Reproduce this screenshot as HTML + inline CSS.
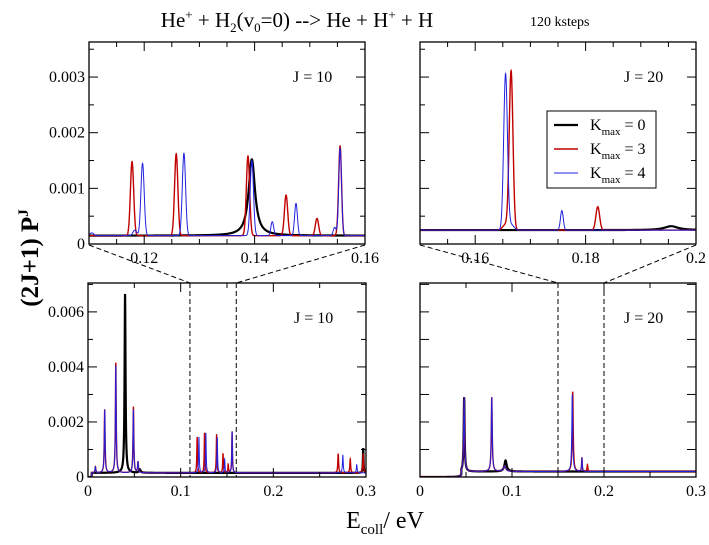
<!DOCTYPE html>
<html><head><meta charset="utf-8">
<style>
html,body{margin:0;padding:0;background:#fff;}
svg{display:block;font-family:"Liberation Serif",serif;}
</style></head>
<body>
<svg id="chart" width="709" height="545" viewBox="0 0 709 545" xmlns="http://www.w3.org/2000/svg">
<text x="297" y="27" font-size="21" text-anchor="middle">He<tspan font-size="13" dy="-8">+</tspan><tspan dy="8"> + H</tspan><tspan font-size="13" dy="5">2</tspan><tspan dy="-5">(v</tspan><tspan font-size="13" dy="5">0</tspan><tspan dy="-5">=0) --&gt; He + H</tspan><tspan font-size="13" dy="-8">+</tspan><tspan dy="8"> + H</tspan></text>
<text x="530" y="26" font-size="14">120 ksteps</text>
<text transform="translate(38,258) rotate(-90)" font-size="25" font-weight="bold" text-anchor="middle">(2J+1) P<tspan font-size="15" dy="-10">J</tspan></text>
<text x="385" y="528" font-size="24" text-anchor="middle">E<tspan font-size="15" dy="6">coll</tspan><tspan dy="-6">/ eV</tspan></text>
<g id="plots"></g>
<g>
<rect x="547" y="111" width="109" height="77" fill="#fff" stroke="#000" stroke-width="1"/>
<line x1="554" y1="125" x2="578" y2="125" stroke="#000" stroke-width="2.2"/>
<line x1="554" y1="149" x2="578" y2="149" stroke="#c00000" stroke-width="1.4"/>
<line x1="554" y1="173" x2="578" y2="173" stroke="#2020e0" stroke-width="1"/>
<text x="590" y="130" font-size="16">K<tspan font-size="11" dy="5">max</tspan><tspan dy="-5"> = 0</tspan></text>
<text x="590" y="154" font-size="16">K<tspan font-size="11" dy="5">max</tspan><tspan dy="-5"> = 3</tspan></text>
<text x="590" y="178" font-size="16">K<tspan font-size="11" dy="5">max</tspan><tspan dy="-5"> = 4</tspan></text>
</g>
</svg>
<script>
// Peak data: [position eV, height, half-width eV]
const tlK0 = [[0.1395,0.00137,0.0007]];
const tlK3 = [[0.1178,0.00133,0.00035],[0.1258,0.00147,0.00035],[0.1388,0.00143,0.00035],[0.1457,0.00073,0.00035],[0.1513,0.00031,0.00035],[0.1552,0.00012,0.0003],[0.1555,0.00155,0.0003]];
const tlK4 = [[0.1183,0.0001,0.0004],[0.1197,0.0013,0.00035],[0.1272,0.00148,0.00035],[0.1395,0.00135,0.00035],[0.1432,0.00025,0.0003],[0.1475,0.00058,0.0003],[0.1545,0.00015,0.0003],[0.1555,0.00157,0.0003],[0.1105,0.00005,0.0004]];
const tlBase = 0.00015;

const trK0 = [[0.1955,0.00007,0.0015]];
const trK3 = [[0.1665,0.00285,0.0004],[0.1822,0.00042,0.0004],[0.1655,0.0001,0.0006]];
const trK4 = [[0.1655,0.0028,0.0004],[0.1757,0.00035,0.0003],[0.1665,0.0001,0.0006]];
const trBase = 0.00025;

const blK0 = [[0.04,0.0065,0.0006],[0.056,0.00012,0.001],[0.297,0.0009,0.0004]];
const blK3 = [[0.008,0.00022,0.0005],[0.018,0.0023,0.0005],[0.03,0.004,0.0005],[0.049,0.0024,0.0005],[0.054,0.0004,0.0005],[0.1178,0.0013,0.0004],[0.1258,0.00145,0.0004],[0.1388,0.0014,0.0004],[0.1457,0.0007,0.0004],[0.1513,0.0003,0.0004],[0.1555,0.0015,0.0004],[0.27,0.0007,0.0005],[0.283,0.0005,0.0005],[0.297,0.0007,0.0005]];
const blK4 = [[0.008,0.00022,0.0005],[0.018,0.0023,0.0005],[0.03,0.0039,0.0005],[0.049,0.0023,0.0005],[0.054,0.0004,0.0005],[0.1197,0.0013,0.0004],[0.1272,0.00145,0.0004],[0.1395,0.0013,0.0004],[0.1475,0.0005,0.0004],[0.1555,0.0015,0.0004],[0.275,0.00065,0.0005],[0.29,0.0003,0.0005]];
const blBase = 0.00015;

const brK0 = [[0.048,0.0027,0.0006],[0.093,0.0004,0.0015]];
const brK3 = [[0.048,0.0027,0.0006],[0.078,0.0027,0.0006],[0.092,0.0002,0.0015],[0.166,0.0029,0.0006],[0.176,0.0005,0.0004],[0.182,0.00025,0.0005]];
const brK4 = [[0.048,0.0027,0.0006],[0.078,0.0027,0.0006],[0.092,0.0002,0.0015],[0.1655,0.0028,0.0006],[0.176,0.0005,0.0004]];
const brBase = 0.0002;

const NS = "http://www.w3.org/2000/svg";
const root = document.getElementById('plots');
function el(tag, attrs, parent){const e=document.createElementNS(NS,tag);for(const k in attrs)e.setAttribute(k,attrs[k]);(parent||root).appendChild(e);return e;}

function curve(peaks, base, x, start, gauss){
  let v = (start!==undefined && x<start) ? 0 : base;
  for(const p of peaks){const d=(x-p[0])/p[2];v+= gauss ? p[1]*Math.exp(-0.693*d*d) : p[1]/(1+d*d);}
  return v;
}

function panel(o){
  const g = el('g',{});
  
  
  const sx = v => o.x0 + (v-o.xmin)/(o.xmax-o.xmin)*(o.x1-o.x0);
  const sy = v => o.y0 - (v-o.ymin)/(o.ymax-o.ymin)*(o.y0-o.y1);
  const clip = 'c'+o.name;
  const cp = el('clipPath',{id:clip},g); el('rect',{x:o.x0,y:o.y1,width:o.x1-o.x0,height:o.y0-o.y1},cp);
  const series = [[o.k0,'#000',2.2,'series-kmax-0',false],[o.k3,'#c00000',1.4,'series-kmax-3',o.gauss],[o.k4,'#2020e0',1,'series-kmax-4',o.gauss]];
  for(const s of series){
    const n=2500; let d='';
    const xs=[];
    for(let i=0;i<=n;i++) xs.push(o.xmin+(o.xmax-o.xmin)*i/n);
    for(const p of s[0]) xs.push(p[0]);
    xs.sort((a,b)=>a-b);
    xs.forEach((x,i)=>{d+=(i?'L':'M')+sx(x).toFixed(2)+','+sy(curve(s[0],o.base,x,o.start,s[4])).toFixed(2);});
    const path = el('path',{d:d,fill:'none',stroke:s[1],'stroke-width':s[2],'clip-path':'url(#'+clip+')'},g);
    
    
  }
  el('rect',{x:o.x0,y:o.y1,width:o.x1-o.x0,height:o.y0-o.y1,fill:'none',stroke:'#000','stroke-width':1.3},g);
  const eps=1e-9;
  for(let v=o.xmin;v<=o.xmax+eps;v+=o.xminor){
    const major = Math.abs(Math.round(v/o.xmajor)*o.xmajor - v)<eps;
    const L = major?9:5, X=sx(v);
    el('line',{x1:X,y1:o.y0,x2:X,y2:o.y0-L,stroke:'#000','stroke-width':1},g);
    el('line',{x1:X,y1:o.y1,x2:X,y2:o.y1+L,stroke:'#000','stroke-width':1},g);
    if(major && o.xlabels){
      const t=el('text',{x:X,y:o.y0+19,'font-size':16,'text-anchor':'middle'},g);
      t.textContent = o.xfmt(v);
      
      
    }
  }
  for(let v=o.ymin;v<=o.ymax+eps;v+=o.yminor){
    const major = Math.abs(Math.round(v/o.ymajor)*o.ymajor - v)<eps;
    const L = major?9:5, Y=sy(v);
    el('line',{x1:o.x0,y1:Y,x2:o.x0+L,y2:Y,stroke:'#000','stroke-width':1},g);
    el('line',{x1:o.x1,y1:Y,x2:o.x1-L,y2:Y,stroke:'#000','stroke-width':1},g);
    if(major && o.ylabels){
      const t=el('text',{x:o.x0-4,y:Y+5,'font-size':16,'text-anchor':'end'},g);
      t.textContent = Math.abs(v)<eps?'0':(+v.toFixed(4)).toString();
      
      
    }
  }
  const lab = el('text',{x:o.x1-72,y:o.y1+40,'font-size':16},g);
  lab.textContent = o.label;
  
  
  return {sx,sy};
}
const fmt = v => { if(Math.abs(v)<1e-9) return '0'; return (+v.toFixed(3)).toString(); };

panel({name:'panel-top-left',x0:89,x1:365,y0:244,y1:42,xmin:0.11,xmax:0.16,ymin:0,ymax:0.00363,xmajor:0.02,xminor:0.005,ymajor:0.001,yminor:0.0005,xlabels:true,ylabels:true,xfmt:fmt,k0:tlK0,k3:tlK3,k4:tlK4,base:tlBase,gauss:true,label:'J = 10'});
panel({name:'panel-top-right',x0:420,x1:696,y0:244,y1:42,xmin:0.15,xmax:0.2,ymin:0,ymax:0.00363,xmajor:0.02,xminor:0.005,ymajor:0.001,yminor:0.0005,xlabels:true,ylabels:false,xfmt:fmt,k0:trK0,k3:trK3,k4:trK4,base:trBase,gauss:true,label:'J = 20'});
const bl = panel({name:'panel-bottom-left',x0:88,x1:366,y0:477,y1:283,xmin:0,xmax:0.3,ymin:0,ymax:0.00705,xmajor:0.1,xminor:0.05,ymajor:0.002,yminor:0.001,xlabels:true,ylabels:true,xfmt:fmt,k0:blK0,k3:blK3,k4:blK4,base:blBase,start:0.004,label:'J = 10'});
const br = panel({name:'panel-bottom-right',x0:420,x1:696,y0:477,y1:283,xmin:0,xmax:0.3,ymin:0,ymax:0.00705,xmajor:0.1,xminor:0.05,ymajor:0.001,yminor:0.001,xlabels:true,ylabels:false,xfmt:fmt,k0:brK0,k3:brK3,k4:brK4,base:brBase,start:0.045,label:'J = 20'});

const dash = {stroke:'#000','stroke-width':1,'stroke-dasharray':'5,3',fill:'none'};
function dl(x1,y1,x2,y2,name){const l=el('line',Object.assign({x1,y1,x2,y2},dash));}
dl(bl.sx(0.11),283,bl.sx(0.11),477,'zoom-range-line');
dl(bl.sx(0.16),283,bl.sx(0.16),477,'zoom-range-line');
dl(89,245,bl.sx(0.11),283,'zoom-connector');
dl(365,245,bl.sx(0.16),283,'zoom-connector');
dl(br.sx(0.15),283,br.sx(0.15),477,'zoom-range-line');
dl(br.sx(0.2),283,br.sx(0.2),477,'zoom-range-line');
dl(420,245,br.sx(0.15),283,'zoom-connector');
dl(696,245,br.sx(0.2),283,'zoom-connector');
</script>
</body></html>
